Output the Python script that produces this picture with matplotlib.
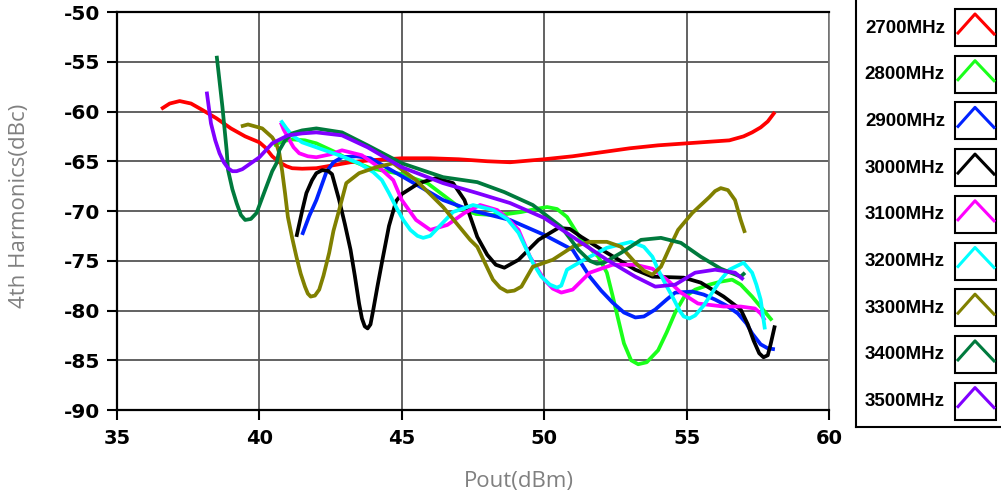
import matplotlib
matplotlib.use("Agg")
import matplotlib.pyplot as plt
from matplotlib.patches import Rectangle

plt.rcParams["axes.unicode_minus"] = False

# Pout (dBm) / 4th harmonic (dBc) for each frequency
labels = ["2700MHz", "2800MHz", "2900MHz", "3000MHz", "3100MHz",
          "3200MHz", "3300MHz", "3400MHz", "3500MHz"]
colors = ["#ff0000", "#1aff1a", "#0022ff", "#000000", "#ff00ff",
          "#00ffff", "#808000", "#007a3d", "#8000ff"]

x_2700 = [36.55, 36.85, 37.2, 37.6, 38.0, 38.5, 39.0, 39.5, 40.0, 40.2, 40.45, 40.7, 40.95,
          41.15, 41.5, 42.0, 42.6, 43.2, 43.9, 45.0, 46.0, 47.0, 48.0, 48.8, 50.0, 51.0,
          52.0, 53.0, 54.0, 55.0, 56.0, 56.5, 57.0, 57.3, 57.6, 57.85, 58.1]
y_2700 = [-59.75, -59.2, -58.95, -59.2, -59.85, -60.7, -61.7, -62.5, -63.1, -63.6, -64.5,
          -65.1, -65.5, -65.7, -65.75, -65.7, -65.4, -65.1, -64.9, -64.7, -64.7, -64.8,
          -65.0, -65.1, -64.8, -64.5, -64.1, -63.7, -63.4, -63.2, -63.0, -62.9, -62.5,
          -62.1, -61.6, -61.0, -60.05]

x_2800 = [40.5, 40.8, 41.15, 41.6, 42.0, 42.6, 43.2, 43.9, 45.0, 45.9, 46.5, 47.05, 47.6,
          48.2, 48.7, 49.2, 49.7, 50.1, 50.45, 50.8, 51.3, 51.9, 52.2, 52.4, 52.6, 52.8,
          53.05, 53.3, 53.6, 54.0, 54.3, 54.6, 54.9, 55.3, 55.8, 56.2, 56.6, 56.9, 57.3,
          57.65, 58.0]
y_2800 = [-63.4, -63.0, -62.8, -62.9, -63.2, -64.0, -64.9, -65.7, -66.3, -67.2, -68.5,
          -69.7, -70.3, -70.4, -70.3, -70.1, -69.8, -69.6, -69.8, -70.6, -72.9, -74.6,
          -76.2, -78.5, -80.9, -83.3, -85.0, -85.4, -85.2, -84.0, -82.2, -80.2, -78.7,
          -77.9, -77.4, -77.1, -76.9, -77.4, -78.6, -79.8, -81.0]

x_2900 = [41.5, 41.75, 42.0, 42.2, 42.35, 42.6, 42.9, 43.4, 43.9, 45.0, 46.45, 47.4, 48.8,
          50.0, 51.0, 51.6, 52.0, 52.4, 52.8, 53.2, 53.5, 53.9, 54.3, 54.6, 55.2, 55.6,
          56.0, 56.4, 56.8, 57.1, 57.3, 57.6, 57.85, 58.1]
y_2900 = [-72.4, -70.5, -68.9, -67.3, -66.1, -65.1, -64.6, -64.5, -64.7, -66.5, -68.9,
          -69.9, -70.9, -72.4, -73.9, -76.6, -78.0, -79.2, -80.2, -80.7, -80.6, -79.9,
          -78.9, -78.2, -78.1, -78.4, -78.9, -79.5, -80.3, -81.3, -82.3, -83.4, -83.8,
          -83.9]

x_3000 = [41.3, 41.5, 41.65, 41.85, 42.0, 42.2, 42.4, 42.55, 42.8, 43.0, 43.2, 43.35,
          43.5, 43.6, 43.7, 43.8, 43.9, 44.0, 44.15, 44.3, 44.55, 44.8, 45.0, 45.6, 46.2,
          46.8, 47.2, 47.65, 48.0, 48.3, 48.6, 49.1, 49.8, 50.5, 50.9, 51.3, 52.2, 53.2,
          53.8, 54.9, 55.5, 56.3, 56.9, 57.15, 57.35, 57.55, 57.7, 57.85, 57.95, 58.1]
y_3000 = [-72.6, -70.0, -68.2, -66.9, -66.2, -65.9, -65.95, -66.3, -68.9, -71.3, -73.9,
          -76.5, -79.3, -80.8, -81.6, -81.8, -81.4, -79.9, -77.5, -75.2, -71.5, -69.0,
          -68.3, -67.2, -66.7, -67.2, -68.9, -72.6, -74.4, -75.4, -75.7, -74.9, -72.9,
          -71.7, -71.8, -72.6, -74.2, -75.9, -76.6, -76.7, -77.2, -78.6, -79.9, -81.4,
          -83.0, -84.3, -84.7, -84.5, -83.4, -81.5]

x_3100 = [40.75, 40.85, 41.0, 41.2, 41.4, 41.7, 42.0, 42.5, 42.9, 43.6, 44.2, 44.7, 45.0,
          45.5, 46.0, 46.6, 47.2, 47.75, 48.35, 48.8, 49.1, 49.5, 50.0, 50.3, 50.6, 51.0,
          51.6, 52.4, 53.2, 53.8, 54.35, 54.8, 55.4, 56.3, 56.9, 57.4, 57.6, 57.75]
y_3100 = [-61.1, -61.8, -62.6, -63.6, -64.2, -64.5, -64.6, -64.3, -63.9, -64.4, -65.6,
          -66.9, -68.9, -70.9, -71.9, -71.4, -70.2, -69.4, -69.9, -71.0, -71.9, -74.6,
          -76.9, -77.8, -78.2, -77.9, -76.2, -75.4, -75.4, -75.8, -77.0, -78.2, -79.3,
          -79.6, -79.6, -79.8, -80.3, -81.0]

x_3200 = [40.75, 40.95, 41.15, 41.5, 42.0, 42.8, 43.5, 44.0, 44.3, 44.55, 44.8, 45.05,
          45.3, 45.55, 45.75, 46.0, 46.3, 46.8, 47.5, 48.2, 48.7, 49.1, 49.6, 49.9, 50.2,
          50.45, 50.6, 50.8, 51.4, 52.2, 53.05, 53.5, 53.8, 54.0, 54.25, 54.5, 54.75,
          54.9, 55.1, 55.3, 55.6, 55.9, 56.2, 56.5, 57.0, 57.3, 57.45, 57.6, 57.75]
y_3200 = [-60.9, -61.7, -62.4, -63.1, -63.6, -64.4, -65.2, -66.1, -66.9, -68.2, -69.6,
          -70.9, -71.9, -72.5, -72.7, -72.5, -71.6, -70.1, -69.4, -69.9, -70.8, -72.2,
          -75.2, -76.6, -77.4, -77.7, -77.5, -75.9, -74.9, -73.7, -73.1, -73.6, -74.6,
          -75.9, -77.3, -78.6, -80.0, -80.6, -80.8, -80.5, -79.5, -78.2, -76.9, -75.9,
          -75.2, -76.2, -77.4, -78.9, -81.9]

x_3300 = [39.35, 39.6, 40.1, 40.45, 40.6, 40.7, 40.8, 40.9, 41.0, 41.15, 41.3, 41.45,
          41.6, 41.7, 41.8, 41.95, 42.1, 42.25, 42.45, 42.6, 42.8, 43.05, 43.5, 44.1,
          44.7, 45.5, 46.45, 47.4, 47.65, 48.2, 48.45, 48.7, 48.95, 49.2, 49.6, 50.3, 51.0,
          51.6, 52.2, 52.7, 53.2, 53.5, 53.8, 54.1, 54.4, 54.7, 55.2, 55.8, 56.0, 56.2,
          56.45, 56.7, 56.9, 57.05]
y_3300 = [-61.5, -61.3, -61.7, -62.6, -63.3, -64.2, -66.0, -68.2, -70.6, -72.7, -74.6,
          -76.3, -77.6, -78.3, -78.6, -78.5, -77.9, -76.5, -74.2, -72.0, -69.9, -67.2,
          -66.2, -65.6, -65.2, -66.9, -69.6, -72.9, -73.6, -76.9, -77.7, -78.1, -78.0,
          -77.6, -75.6, -74.9, -73.6, -73.1, -73.1, -73.6, -75.2, -76.0, -76.4, -75.6,
          -73.7, -71.9, -70.2, -68.6, -68.0, -67.7, -67.9, -68.9, -70.9, -72.2]

x_3400 = [38.5, 38.7, 38.85, 38.9, 39.05, 39.2, 39.35, 39.5, 39.7, 39.9, 40.2, 40.45,
          40.6, 40.7, 40.9, 41.15, 41.5, 42.0, 42.9, 43.8, 45.0, 46.45, 47.65, 48.6, 49.6,
          50.6, 51.2, 51.6, 51.85, 52.1, 52.7, 53.4, 54.1, 54.8, 55.5, 56.2, 56.9, 57.05]
y_3400 = [-54.4, -59.5, -63.9, -65.9, -67.8, -69.2, -70.4, -70.9, -70.8, -70.2, -67.9,
          -66.0, -65.2, -63.9, -62.9, -62.2, -61.9, -61.7, -62.1, -63.4, -65.2, -66.6,
          -67.1, -68.1, -69.4, -71.6, -73.9, -75.0, -75.3, -75.2, -74.2, -72.9, -72.7,
          -73.2, -74.6, -75.8, -76.6, -76.2]

x_3500 = [38.15, 38.3, 38.45, 38.6, 38.75, 38.9, 39.05, 39.2, 39.4, 39.6, 40.0, 40.45,
          41.0, 41.5, 42.0, 42.9, 43.8, 45.0, 46.45, 47.65, 48.8, 50.0, 51.0, 52.2, 53.2,
          53.9, 54.6, 55.3, 56.0, 56.7, 57.0]
y_3500 = [-58.0, -61.2, -62.9, -64.2, -65.1, -65.7, -66.0, -66.0, -65.8, -65.4, -64.6,
          -63.2, -62.4, -62.2, -62.1, -62.4, -63.6, -65.6, -67.2, -68.2, -69.2, -70.7,
          -72.6, -74.9, -76.6, -77.6, -77.4, -76.2, -75.9, -76.2, -76.9]

xs = [x_2700, x_2800, x_2900, x_3000, x_3100, x_3200, x_3300, x_3400, x_3500]
ys = [y_2700, y_2800, y_2900, y_3000, y_3100, y_3200, y_3300, y_3400, y_3500]

W, H = 1001, 496
fig = plt.figure(figsize=(W / 100, H / 100), dpi=100)
ax = fig.add_axes([117 / W, (H - 410) / H, 712 / W, 398 / H])

for x, y, c in zip(xs, ys, colors):
    ax.plot(x, y, color=c, lw=2.7, solid_joinstyle="round", solid_capstyle="butt")

ax.set_xlim(35, 60)
ax.set_ylim(-90, -50)
ax.set_xticks(range(35, 61, 5))
ax.set_yticks(range(-90, -49, 5))
ax.grid(True, color="#555555", lw=1.3)
ax.set_axisbelow(True)
for side in ["left", "bottom", "top"]:
    ax.spines[side].set_color("black")
    ax.spines[side].set_linewidth(1.6)
ax.spines["right"].set_color("#777777")
ax.spines["right"].set_linewidth(1.2)
ax.tick_params(direction="out", length=7, width=1.5, pad=5, labelsize=14.5)
ax.tick_params(axis="x", pad=7, labelsize=14)
for lab in ax.get_xticklabels() + ax.get_yticklabels():
    lab.set_fontweight("bold")

fig.text(20 / W, 1 - 206 / H, "4th Harmonics(dBc)", rotation=90, ha="center",
         va="center", color="#808080", fontsize=16, family="Open Sans")
fig.text(519 / W, 1 - 481 / H, "Pout(dBm)", ha="center", va="center",
         color="#808080", fontsize=16, family="Open Sans")

# legend panel, drawn in pixel coordinates
lg = fig.add_axes([856 / W, (H - 427) / H, 160 / W, 440 / H])
lg.set_xlim(856, 1016)
lg.set_ylim(427, -13)
lg.set_xticks([])
lg.set_yticks([])
for s in lg.spines.values():
    s.set_linewidth(1.5)
    s.set_color("black")
for i, (lab, c) in enumerate(zip(labels, colors)):
    top = 9 + 46.7 * i
    lg.add_patch(Rectangle((955, top), 41, 37, fill=False, ec="black", lw=1.5))
    lg.plot([958, 975, 994], [top + 24, top + 5, top + 25], color=c, lw=2.2)
    lg.text(945, top + 19, lab, ha="right", va="center", fontsize=13.5,
            fontweight="bold", family="Liberation Sans")

fig.savefig("out.png", dpi=100)
